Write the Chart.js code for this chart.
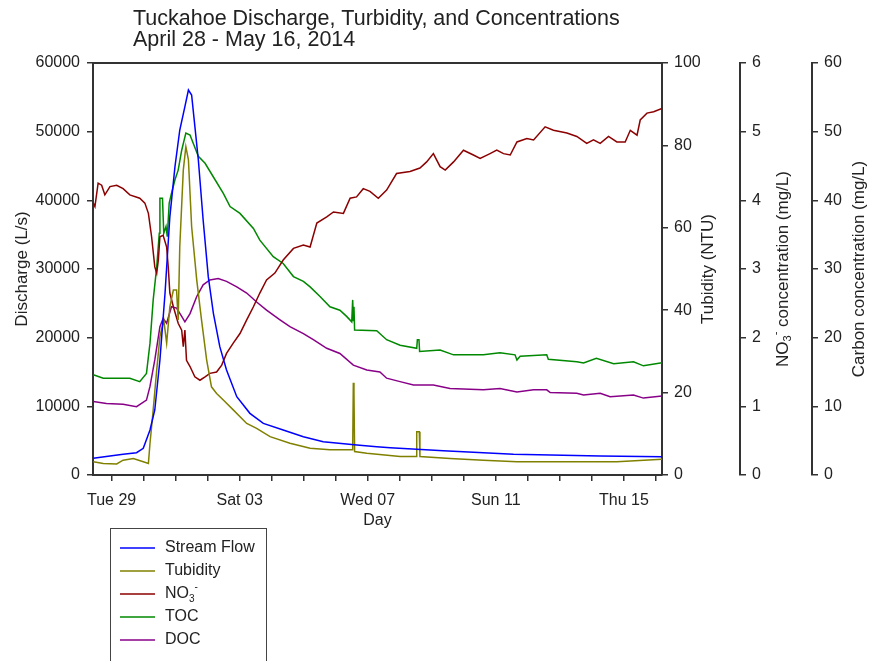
<!DOCTYPE html>
<html>
<head>
<meta charset="utf-8">
<title>Tuckahoe Discharge, Turbidity, and Concentrations</title>
<script src="https://cdn.jsdelivr.net/npm/chart.js@4.4.1/dist/chart.umd.min.js"></script>
<style>
  html, body { margin: 0; padding: 0; background: #fff; }
  #chart { display: block; }
</style>
</head>
<body>
<canvas id="chart" width="877" height="661"></canvas>
<script>
// x values are days counted from Apr 28 00:00, so Tue 29 = 1
const labelDays = [1, 5, 9, 13, 17];
const labelTexts = ['Tue 29', 'Sat 03', 'Wed 07', 'Sun 11', 'Thu 15'];

// Stream flow (L/s), left axis
const flowDays = [0.43, 0.95, 1.36, 1.78, 1.99, 2.20, 2.35, 2.51, 2.67, 2.82, 2.98, 3.13, 3.29, 3.40, 3.50, 3.57, 3.71, 3.86, 4.02, 4.18, 4.38, 4.59, 4.91, 5.32, 5.74, 6.36, 6.99, 7.61, 8.66, 9.28, 9.70, 11.36, 13.55, 16.26, 18.19];
const flowValues = [2430, 2770, 3010, 3250, 3880, 6550, 9470, 16750, 26500, 37600, 44900, 50240, 53640, 56070, 55340, 52180, 45870, 37140, 28880, 23550, 18690, 15290, 11410, 8980, 7520, 6550, 5580, 4850, 4370, 4120, 3980, 3540, 3010, 2770, 2670];

// Turbidity (NTU)
const turbDays = [0.43, 0.74, 1.16, 1.36, 1.68, 1.99, 2.15, 2.20, 2.30, 2.41, 2.51, 2.63, 2.72, 2.82, 2.93, 3.03, 3.08, 3.13, 3.24, 3.32, 3.40, 3.50, 3.66, 3.81, 3.97, 4.12, 4.28, 4.49, 4.80, 5.22, 5.53, 5.95, 6.57, 7.20, 7.82, 8.53, 8.55, 8.57, 8.59, 8.97, 10.01, 10.52, 10.53, 10.61, 10.63, 11.57, 12.61, 13.66, 15.22, 16.78, 18.19];
const turbValues = [3.2, 2.8, 2.7, 3.6, 4.0, 3.2, 2.8, 7.7, 15.8, 25.5, 33.6, 37.6, 32.0, 40.8, 44.9, 44.9, 37.6, 55.4, 74.0, 79.7, 76.5, 60.3, 47.3, 37.6, 27.9, 21.4, 19.8, 18.2, 15.8, 12.5, 11.3, 9.3, 7.7, 6.5, 6.1, 6.1, 22.4, 19.8, 5.7, 5.3, 4.5, 4.5, 10.5, 10.5, 4.5, 4.0, 3.6, 3.2, 3.2, 3.2, 3.8];

// Nitrate (mg/L)
const no3Days = [0.43, 0.48, 0.58, 0.69, 0.79, 0.95, 1.16, 1.36, 1.57, 1.88, 2.04, 2.15, 2.25, 2.35, 2.41, 2.46, 2.51, 2.61, 2.72, 2.77, 2.82, 2.93, 3.08, 3.19, 3.24, 3.29, 3.34, 3.45, 3.60, 3.76, 3.92, 4.07, 4.28, 4.44, 4.59, 4.80, 5.01, 5.22, 5.43, 5.63, 5.84, 6.10, 6.36, 6.68, 6.99, 7.20, 7.41, 7.72, 7.93, 8.24, 8.45, 8.65, 8.86, 9.07, 9.33, 9.59, 9.90, 10.32, 10.63, 10.84, 11.05, 11.26, 11.42, 11.68, 11.99, 12.30, 12.51, 12.82, 13.03, 13.24, 13.45, 13.66, 13.97, 14.18, 14.54, 14.80, 15.22, 15.53, 15.84, 16.05, 16.26, 16.52, 16.78, 17.04, 17.20, 17.41, 17.51, 17.72, 17.93, 18.19];
const no3Values = [3.96, 3.91, 4.25, 4.22, 4.08, 4.20, 4.22, 4.17, 4.08, 4.03, 3.96, 3.81, 3.47, 3.03, 2.94, 3.13, 3.47, 3.49, 3.32, 3.03, 2.65, 2.45, 2.21, 2.11, 1.87, 2.11, 1.67, 1.58, 1.43, 1.38, 1.43, 1.48, 1.50, 1.60, 1.77, 1.92, 2.06, 2.26, 2.45, 2.65, 2.84, 2.94, 3.13, 3.30, 3.35, 3.32, 3.67, 3.76, 3.83, 3.81, 4.03, 4.05, 4.17, 4.13, 4.03, 4.15, 4.39, 4.42, 4.47, 4.56, 4.68, 4.49, 4.44, 4.56, 4.73, 4.66, 4.61, 4.68, 4.73, 4.68, 4.66, 4.85, 4.90, 4.88, 5.07, 5.02, 4.98, 4.93, 4.83, 4.88, 4.83, 4.93, 4.85, 4.85, 5.02, 4.95, 5.17, 5.27, 5.29, 5.34];

// Total organic carbon (mg/L)
const tocDays = [0.43, 0.74, 1.16, 1.57, 1.88, 2.09, 2.20, 2.30, 2.41, 2.49, 2.51, 2.59, 2.63, 2.70, 2.74, 2.80, 2.87, 2.98, 3.08, 3.19, 3.32, 3.45, 3.55, 3.71, 3.92, 4.18, 4.49, 4.70, 5.01, 5.43, 5.63, 6.05, 6.36, 6.68, 6.99, 7.20, 7.51, 7.82, 8.13, 8.34, 8.50, 8.53, 8.55, 8.57, 8.59, 9.28, 9.59, 10.01, 10.53, 10.55, 10.60, 10.62, 11.26, 11.68, 12.61, 13.13, 13.60, 13.66, 13.76, 14.59, 14.64, 15.53, 15.74, 16.14, 16.68, 17.30, 17.61, 18.19];
const tocValues = [14.6, 14.1, 14.1, 14.1, 13.6, 14.8, 19.2, 25.5, 30.3, 35.2, 40.3, 40.3, 35.2, 36.2, 34.7, 39.6, 41.0, 43.0, 44.4, 47.3, 49.8, 49.5, 48.3, 46.4, 45.4, 43.4, 41.0, 39.1, 38.1, 35.9, 34.2, 31.8, 30.8, 28.9, 28.2, 27.4, 26.0, 24.5, 24.0, 23.1, 22.3, 25.5, 22.5, 24.5, 21.1, 21.0, 19.7, 18.9, 18.45, 19.7, 19.7, 18.0, 18.2, 17.5, 17.5, 17.8, 17.5, 16.75, 17.3, 17.5, 16.85, 16.5, 16.3, 17.0, 16.2, 16.5, 15.9, 16.35];

// Dissolved organic carbon (mg/L)
const docDays = [0.43, 0.84, 1.36, 1.78, 2.09, 2.20, 2.35, 2.51, 2.61, 2.72, 2.87, 3.03, 3.19, 3.29, 3.45, 3.66, 3.86, 4.07, 4.33, 4.59, 4.91, 5.22, 5.53, 5.84, 6.26, 6.57, 6.99, 7.30, 7.72, 8.13, 8.55, 8.97, 9.38, 9.59, 10.01, 10.43, 11.05, 11.57, 12.61, 13.13, 13.66, 14.18, 14.59, 14.70, 15.53, 15.74, 16.26, 16.57, 17.30, 17.61, 18.19];
const docValues = [10.7, 10.4, 10.3, 9.95, 10.9, 12.9, 16.75, 21.6, 22.8, 22.1, 24.5, 24.3, 23.1, 22.3, 23.5, 26.0, 27.7, 28.4, 28.6, 28.2, 27.4, 26.5, 25.2, 24.0, 22.6, 21.6, 20.6, 19.7, 18.45, 17.7, 16.0, 15.3, 15.0, 14.1, 13.6, 13.1, 13.1, 12.6, 12.4, 12.6, 12.1, 12.4, 12.4, 12.0, 11.9, 11.65, 11.9, 11.4, 11.65, 11.2, 11.5];

const FONT = '"Liberation Sans", Arial, sans-serif';
const TXT = '#222';
const AXIS = '#333';

function pts(days, vals) {
  return days.map((d, i) => ({ x: d, y: vals[i] }));
}

// text made of pieces, some of them sub- or superscript
function drawRich(ctx, parts, cx, cy, size) {
  const small = Math.round(size * 0.65);
  let total = 0;
  parts.forEach(p => {
    ctx.font = (p.sub || p.sup ? small : size) + 'px ' + FONT;
    p.w = ctx.measureText(p.t).width;
    total += p.w;
  });
  let x = cx - total / 2;
  ctx.textAlign = 'left';
  ctx.textBaseline = 'middle';
  parts.forEach(p => {
    ctx.font = (p.sub || p.sup ? small : size) + 'px ' + FONT;
    let dy = 0;
    if (p.sub) dy = size * 0.3;
    if (p.sup) dy = -size * 0.4;
    ctx.fillText(p.t, x, cy + dy);
    x += p.w;
  });
}

function drawRotated(ctx, parts, cx, cy, size) {
  ctx.save();
  ctx.translate(cx, cy);
  ctx.rotate(-Math.PI / 2);
  drawRich(ctx, parts, 0, 0, size);
  ctx.restore();
}

const no3Parts = () => [{ t: 'NO' }, { t: '3', sub: true }, { t: '-', sup: true }];

const decorations = {
  id: 'decorations',
  afterDraw(chart) {
    const ctx = chart.ctx;
    const a = chart.chartArea;
    ctx.save();
    ctx.fillStyle = TXT;

    // title
    ctx.font = '21.5px ' + FONT;
    ctx.textAlign = 'left';
    ctx.textBaseline = 'alphabetic';
    ctx.fillText('Tuckahoe Discharge, Turbidity, and Concentrations', 133, 25);
    ctx.fillText('April 28 - May 16, 2014', 133, 46);

    // top edge of the frame
    ctx.strokeStyle = AXIS;
    ctx.lineWidth = 2;
    ctx.beginPath();
    ctx.moveTo(a.left - 1, a.top);
    ctx.lineTo(a.right + 1, a.top);
    ctx.stroke();

    // axis titles
    const midY = (a.top + a.bottom) / 2;
    drawRich(ctx, [{ t: 'Day' }], (a.left + a.right) / 2, 521, 16);
    drawRotated(ctx, [{ t: 'Discharge (L/s)' }], 22, midY, 17);
    drawRotated(ctx, [{ t: 'Tubidity (NTU)' }], 708, midY, 17);
    drawRotated(ctx, no3Parts().concat([{ t: ' concentration (mg/L)' }]), 783, midY, 17);
    drawRotated(ctx, [{ t: 'Carbon concentration (mg/L)' }], 859, midY, 17);

    // legend
    ctx.strokeStyle = '#444';
    ctx.lineWidth = 1;
    ctx.strokeRect(110.5, 528.5, 156, 200);
    const legendParts = [[{ t: 'Stream Flow' }], [{ t: 'Tubidity' }], no3Parts(), [{ t: 'TOC' }], [{ t: 'DOC' }]];
    chart.data.datasets.forEach((ds, i) => {
      const y = 548 + i * 23;
      ctx.strokeStyle = ds.borderColor;
      ctx.lineWidth = 1.5;
      ctx.beginPath();
      ctx.moveTo(120, y);
      ctx.lineTo(155, y);
      ctx.stroke();
      ctx.fillStyle = TXT;
      let w = 0;
      legendParts[i].forEach(p => {
        ctx.font = ((p.sub || p.sup) ? 10 : 16) + 'px ' + FONT;
        w += ctx.measureText(p.t).width;
      });
      drawRich(ctx, legendParts[i], 165 + w / 2, y, 16);
    });
    ctx.restore();
  }
};

const tickFont = { family: FONT, size: 16 };

function yAxis(position, min, max, step, width) {
  return {
    type: 'linear',
    position: position,
    min: min,
    max: max,
    afterFit: s => { s.width = width; },
    grid: { drawOnChartArea: false, tickLength: 6, color: AXIS, lineWidth: 1.5 },
    border: { display: true, color: AXIS, width: 2 },
    ticks: {
      stepSize: step,
      padding: position === 'left' ? 7 : 6,
      font: tickFont,
      color: TXT,
      callback: v => String(v)
    }
  };
}

new Chart(document.getElementById('chart'), {
  type: 'line',
  data: {
    datasets: [
      { label: 'Stream Flow', data: pts(flowDays, flowValues), yAxisID: 'y', borderColor: '#0000FF' },
      { label: 'Tubidity', data: pts(turbDays, turbValues), yAxisID: 'yT', borderColor: '#808000' },
      { label: 'NO₃⁻', data: pts(no3Days, no3Values), yAxisID: 'yN', borderColor: '#8B0000' },
      { label: 'TOC', data: pts(tocDays, tocValues), yAxisID: 'yC', borderColor: '#008800' },
      { label: 'DOC', data: pts(docDays, docValues), yAxisID: 'yC', borderColor: '#880088' }
    ]
  },
  options: {
    responsive: false,
    animation: false,
    events: [],
    layout: { padding: { top: 63, left: 0, right: 0, bottom: 126 } },
    elements: {
      line: { borderWidth: 1.5, tension: 0, fill: false },
      point: { radius: 0 }
    },
    plugins: { legend: { display: false }, tooltip: { enabled: false } },
    scales: {
      x: {
        type: 'linear',
        position: 'bottom',
        min: 0.42,
        max: 18.19,
        afterFit: s => { s.height = 60; },
        grid: { drawOnChartArea: false, tickLength: 6, color: AXIS, lineWidth: 1.5 },
        border: { display: true, color: AXIS, width: 2 },
        ticks: {
          stepSize: 1,
          includeBounds: false,
          autoSkip: false,
          maxRotation: 0,
          padding: 10,
          font: tickFont,
          color: TXT,
          callback: v => {
            const i = labelDays.indexOf(Math.round(v));
            return i >= 0 && Math.abs(v - Math.round(v)) < 1e-6 ? labelTexts[i] : '';
          }
        }
      },
      y: yAxis('left', 0, 60000, 10000, 93),
      yT: yAxis('right', 0, 100, 20, 78),
      yN: yAxis('right', 0, 6, 1, 72),
      yC: yAxis('right', 0, 60, 10, 65)
    }
  },
  plugins: [decorations]
});
</script>
</body>
</html>
